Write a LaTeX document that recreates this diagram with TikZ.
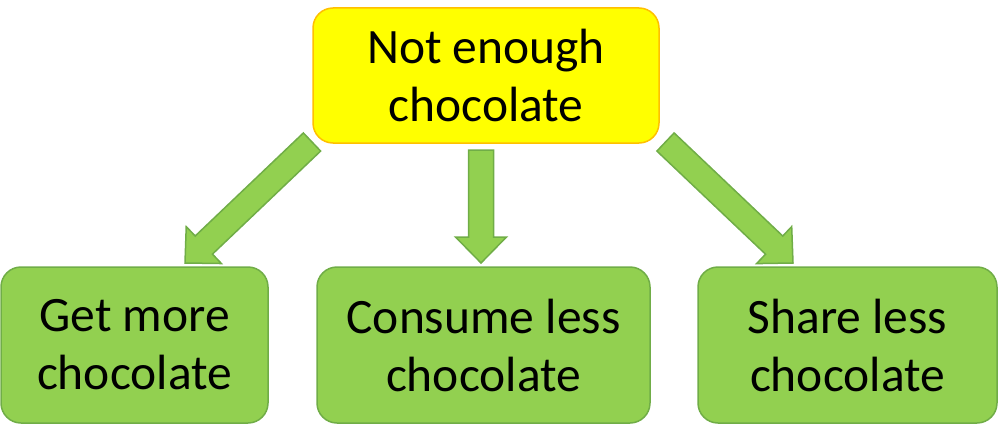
\documentclass[tikz,border=0pt]{standalone}
\usepackage{fontspec}
\setmainfont{Carlito}
\usetikzlibrary{calc}
\definecolor{gfill}{HTML}{92D050}
\definecolor{gline}{HTML}{70AD47}
\definecolor{yfill}{HTML}{FFFF00}
\definecolor{yline}{HTML}{FFC000}
\tikzset{
  box/.style={draw=gline, fill=gfill, line width=1.5pt, rounded corners=20pt,
    align=center, font=\fontsize{49.5}{58}\selectfont, inner sep=0pt},
  topbox/.style={box, draw=yline, fill=yfill},
  blockarrow/.style={draw=gline, fill=gfill, line width=1.5pt, line join=miter},
}
% block arrow from coordinate #1 (tail centre) to coordinate #2 (tip)
\newcommand\blockarr[2]{%
  \coordinate (#1n) at ($(#2)!26pt!(#1)$);
  \draw[blockarrow] ($(#1)!12.5pt!90:(#2)$) -- ($(#1n)!12.5pt!90:(#2)$)
    -- ($(#1n)!25.5pt!90:(#2)$) -- (#2) -- ($(#1n)!25.5pt!-90:(#2)$)
    -- ($(#1n)!12.5pt!-90:(#2)$) -- ($(#1)!12.5pt!-90:(#2)$) -- cycle;}
\begin{document}
\begin{tikzpicture}[x=1pt, y=-1pt]
\useasboundingbox (0,0) rectangle (998,436);
\node[topbox, minimum width=346pt, minimum height=135pt] (top) at (486,75.5) {Not enough\\chocolate};
\node[box, minimum width=267pt, minimum height=156pt] (get) at (134.5,345) {Get more\\chocolate};
\node[box, minimum width=333pt, minimum height=156pt] (consume) at (483.5,345) {Consume less\\chocolate};
\node[box, minimum width=299pt, minimum height=156pt] (share) at (847.5,345) {Share less\\chocolate};
\coordinate (la) at (312,142);
\coordinate (lb) at (185,263);
\coordinate (ma) at (481,150);
\coordinate (mb) at (481,263);
\coordinate (ra) at (665.5,142);
\coordinate (rb) at (793,263);
\blockarr{la}{lb}
\blockarr{ma}{mb}
\blockarr{ra}{rb}
\end{tikzpicture}
\end{document}
